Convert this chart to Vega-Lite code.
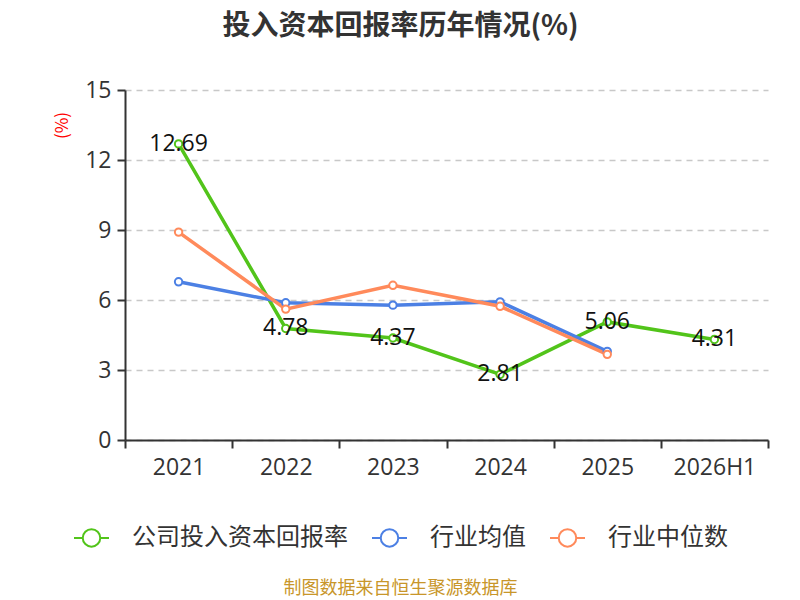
{
  "$schema": "https://vega.github.io/schema/vega-lite/v6.json",
  "width": 643,
  "height": 350,
  "autosize": {"type": "none"},
  "padding": {"left": 125, "top": 90, "right": 32, "bottom": 160},
  "background": "white",
  "title": {
    "text": "投入资本回报率历年情况(%)",
    "anchor": "middle",
    "font": "Noto Sans CJK SC",
    "fontSize": 28,
    "fontWeight": "bold",
    "color": "#333333",
    "dx": -46,
    "offset": 38
  },
  "config": {
    "font": "Noto Sans CJK SC",
    "view": {"stroke": null}
  },
  "data": {
    "values": [
      {"year": "2021", "series": "公司投入资本回报率", "value": 12.69},
      {"year": "2022", "series": "公司投入资本回报率", "value": 4.78},
      {"year": "2023", "series": "公司投入资本回报率", "value": 4.37},
      {"year": "2024", "series": "公司投入资本回报率", "value": 2.81},
      {"year": "2025", "series": "公司投入资本回报率", "value": 5.06},
      {"year": "2026H1", "series": "公司投入资本回报率", "value": 4.31},
      {"year": "2021", "series": "行业均值", "value": 6.78},
      {"year": "2022", "series": "行业均值", "value": 5.88},
      {"year": "2023", "series": "行业均值", "value": 5.78},
      {"year": "2024", "series": "行业均值", "value": 5.92},
      {"year": "2025", "series": "行业均值", "value": 3.8},
      {"year": "2021", "series": "行业中位数", "value": 8.91},
      {"year": "2022", "series": "行业中位数", "value": 5.61},
      {"year": "2023", "series": "行业中位数", "value": 6.63},
      {"year": "2024", "series": "行业中位数", "value": 5.73},
      {"year": "2025", "series": "行业中位数", "value": 3.67}
    ]
  },
  "encoding": {
    "x": {
      "field": "year",
      "type": "nominal",
      "sort": null,
      "scale": {"paddingInner": 0, "paddingOuter": 0},
      "axis": {
        "title": "制图数据来自恒生聚源数据库",
        "titleColor": "#C8962A",
        "titleFontSize": 18,
        "titleFontWeight": "normal",
        "titleX": 275,
        "titleY": 148,
        "titleAlign": "center",
        "titleBaseline": "middle",
        "labelAngle": 0,
        "labelFont": "Open Sans",
        "labelFontSize": 23,
        "labelColor": "#333333",
        "labelPadding": 8,
        "domainColor": "#333333",
        "domainWidth": 2,
        "tickColor": "#333333",
        "tickWidth": 2,
        "tickSize": 8,
        "tickBand": "extent",
        "grid": false
      }
    },
    "y": {
      "field": "value",
      "type": "quantitative",
      "scale": {"domain": [0, 15]},
      "axis": {
        "title": "(%)",
        "titleColor": "#FF0000",
        "titleFontSize": 17,
        "titleFontWeight": "normal",
        "titleAngle": 270,
        "titleX": -63,
        "titleY": 35,
        "titleAlign": "center",
        "titleBaseline": "middle",
        "values": [0, 3, 6, 9, 12, 15],
        "labelFont": "Open Sans",
        "labelFontSize": 23,
        "labelColor": "#333333",
        "labelPadding": 6,
        "domainColor": "#333333",
        "domainWidth": 2,
        "tickColor": "#333333",
        "tickWidth": 2,
        "tickSize": 8,
        "grid": true,
        "gridColor": "#C8C8C8",
        "gridDash": [6, 5],
        "gridWidth": 1.5
      }
    }
  },
  "layer": [
    {
      "mark": {"type": "line", "strokeWidth": 3.5},
      "encoding": {
        "color": {
          "field": "series",
          "type": "nominal",
          "sort": null,
          "scale": {
            "domain": ["公司投入资本回报率", "行业均值", "行业中位数"],
            "range": ["#52C41A", "#4C80E4", "#FF8A5B"]
          },
          "legend": {
            "title": null,
            "orient": "none",
            "direction": "horizontal",
            "legendX": -52,
            "legendY": 429,
            "symbolType": "M-1,0L-0.5,0M0.5,0L1,0M-0.5,0A0.5,0.5,0,1,1,0.5,0A0.5,0.5,0,1,1,-0.5,0Z",
            "symbolSize": 1225,
            "symbolStrokeWidth": 2,
            "symbolFillColor": "white",
            "labelFontSize": 24,
            "labelColor": "#333333",
            "labelOffset": 22,
            "columnPadding": 20,
            "labelLimit": 300
          }
        }
      }
    },
    {
      "mark": {"type": "point", "shape": "circle", "filled": true, "fill": "white", "size": 55, "strokeWidth": 2, "opacity": 1},
      "encoding": {
        "stroke": {
          "field": "series",
          "type": "nominal",
          "scale": {
            "domain": ["公司投入资本回报率", "行业均值", "行业中位数"],
            "range": ["#52C41A", "#4C80E4", "#FF8A5B"]
          },
          "legend": null
        }
      }
    },
    {
      "transform": [{"filter": "datum.series === '公司投入资本回报率'"}],
      "mark": {"type": "text", "fontSize": 23, "color": "#111111", "align": "center", "baseline": "middle", "font": "Open Sans"},
      "encoding": {
        "text": {"field": "value", "type": "quantitative", "format": ".2f"}
      }
    }
  ]
}
